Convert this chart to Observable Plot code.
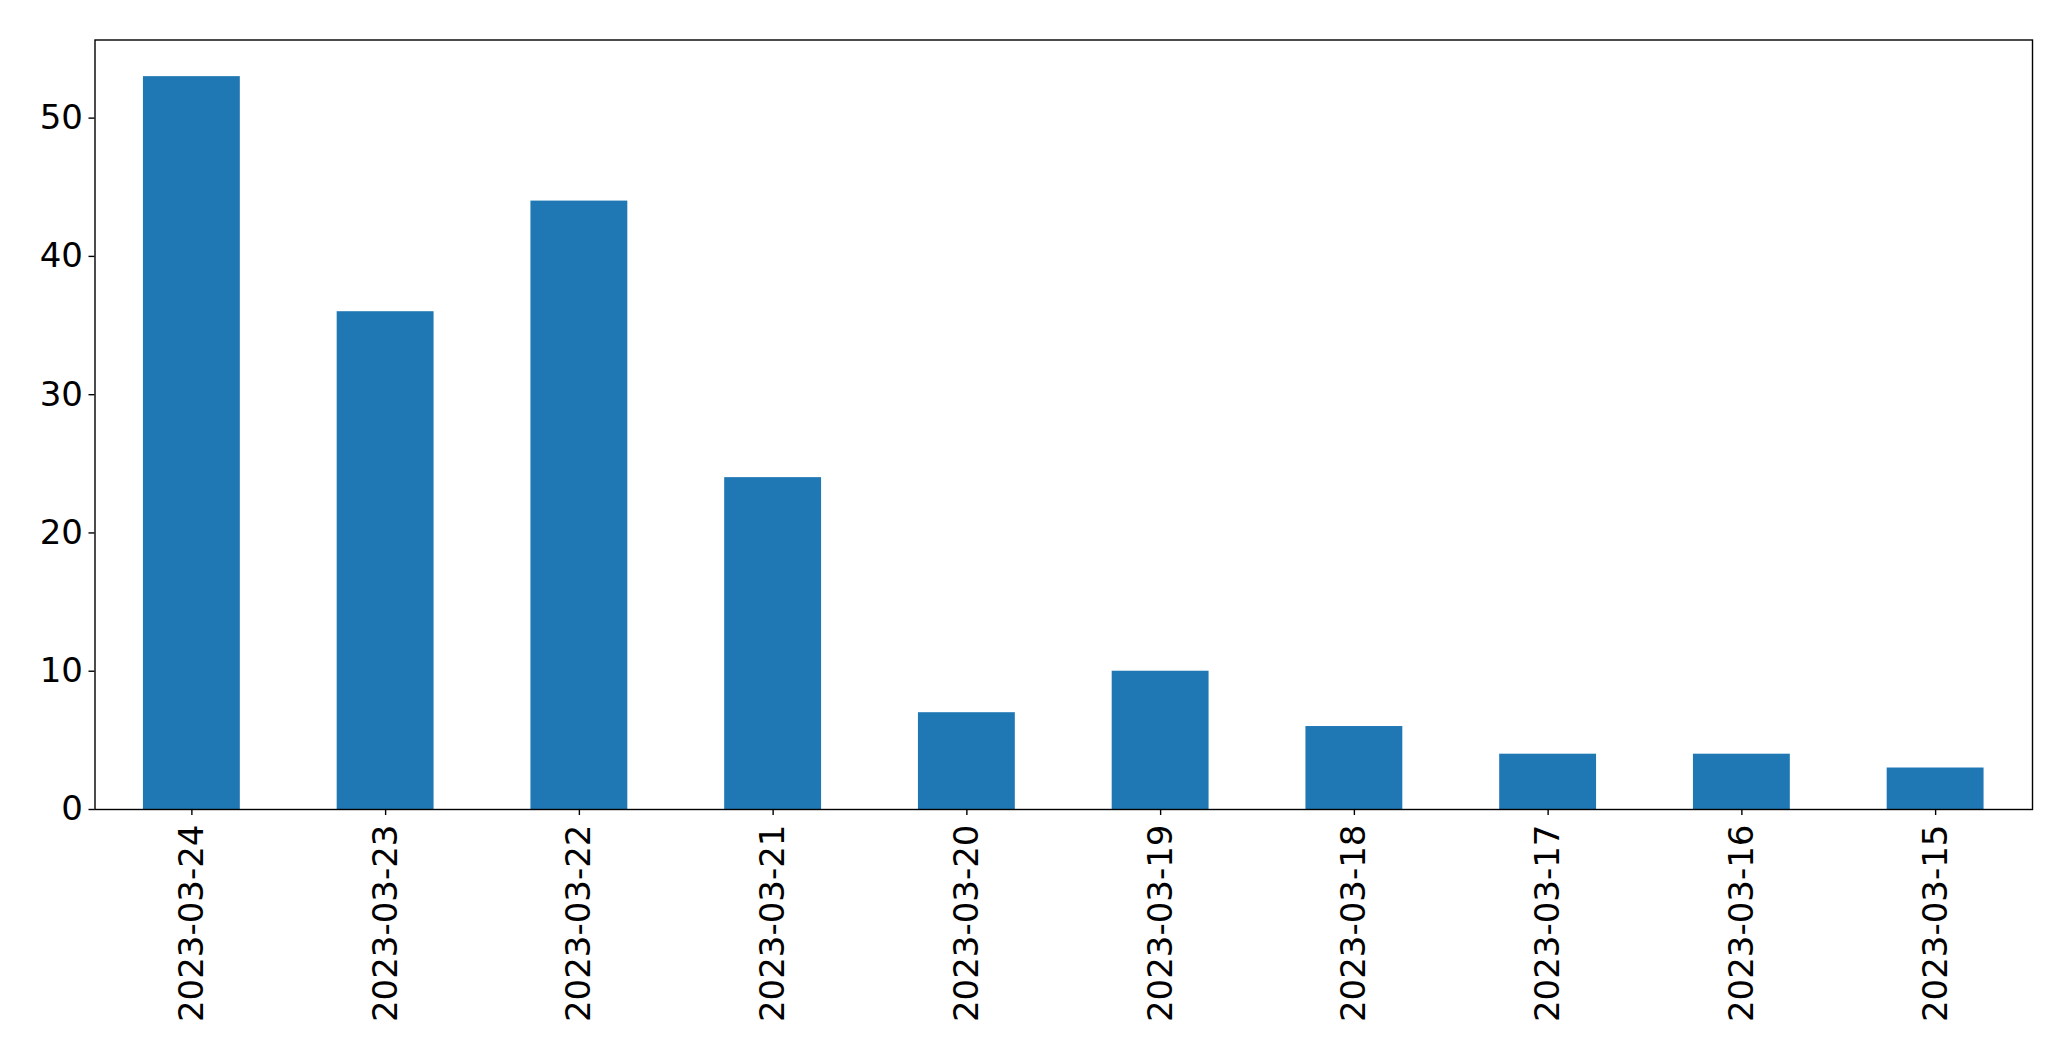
<!DOCTYPE html>
<html>
<head>
<meta charset="utf-8">
<script src="https://cdn.jsdelivr.net/npm/d3@7"></script>
<script src="https://cdn.jsdelivr.net/npm/@observablehq/plot@0.6"></script>
<style>
  html, body { margin: 0; padding: 0; background: #fff; }
  svg { display: block; }
</style>
</head>
<body>
<div id="chart"></div>
<script>
const dates = ["2023-03-24","2023-03-23","2023-03-22","2023-03-21","2023-03-20","2023-03-19","2023-03-18","2023-03-17","2023-03-16","2023-03-15"];
const counts = [53, 36, 44, 24, 7, 10, 6, 4, 4, 3];
const yTicks = [0, 10, 20, 30, 40, 50];

const data = dates.map((d, i) => ({date: d, count: counts[i]}));

const chart = Plot.plot({
  width: 2071,
  height: 1061,
  marginLeft: 94.5,
  marginRight: 39,
  marginTop: 39.5,
  marginBottom: 252,
  style: {fontFamily: "'DejaVu Sans', sans-serif", color: "black", background: "white"},
  x: {domain: dates, paddingInner: 0.5, paddingOuter: 0.25, round: false, label: null},
  y: {domain: [0, 53 * 1.05], label: null},
  marks: [
    Plot.barY(data, {x: "date", y: "count", fill: "#1f77b4", inset: 0}),
    Plot.frame({stroke: "black", strokeWidth: 1.4}),
    Plot.axisX({tickRotate: -90, fontSize: 34, tickSize: 6, tickPadding: 9, strokeWidth: 1.4, label: null}),
    Plot.axisY({ticks: yTicks, fontSize: 34, tickSize: 6, tickPadding: 6, strokeWidth: 1.4, label: null, tickFormat: d3.format("d")})
  ]
});
document.getElementById("chart").appendChild(chart);
</script>
</body>
</html>
